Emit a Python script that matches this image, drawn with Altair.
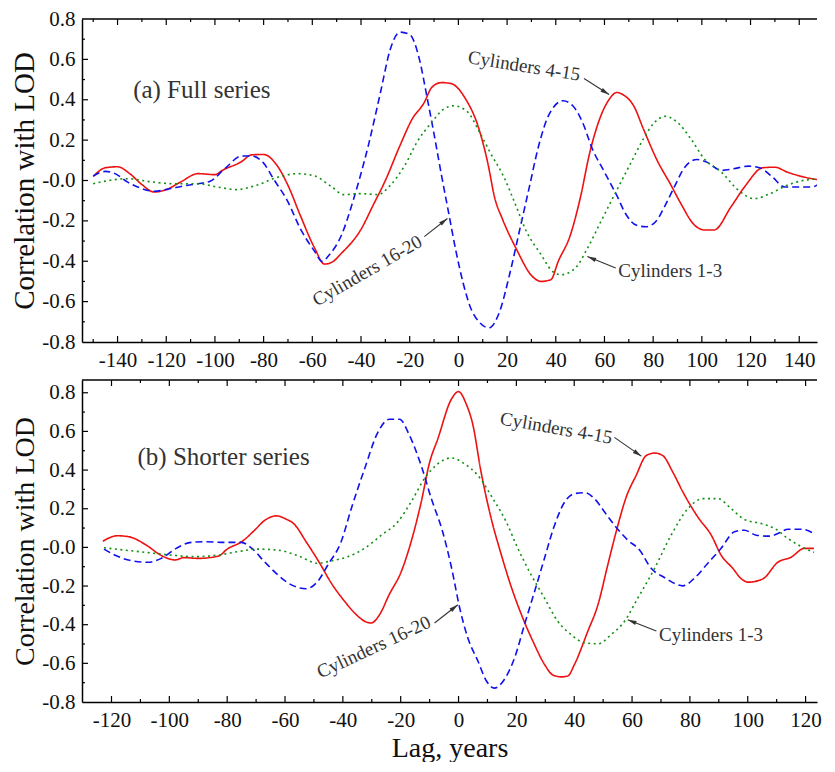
import math
import altair as alt
import pandas as pd

# ---------------- data ----------------
SERIES = ["Cylinders 4-15", "Cylinders 16-20", "Cylinders 1-3"]
COLORS = ["#ee1111", "#1111ee", "#119011"]
DASHES = [[1, 0], [7, 4], [2, 3.5]]

# (a) Full series
top_red_lag = [-150, -145, -140, -135, -130, -125, -120, -114, -107, -100, -97, -89, -85, -80, -75,
               -70, -65, -59, -55, -52, -48, -40, -35, -30, -24, -19, -14, -11, -7, -3,
               3, 8, 12, 15, 18, 24, 30, 34, 38, 41, 46, 50, 54, 58, 62,
               65, 68, 72, 76, 82, 87, 91, 97, 101, 105, 112, 118, 125, 130, 135, 142, 150]
top_red_val = [0.02, 0.063, 0.068, 0.034, -0.02, -0.057, -0.045, -0.007, 0.034, 0.029, 0.05, 0.094, 0.127, 0.129, 0.083,
               -0.024, -0.171, -0.336, -0.414, -0.405, -0.36, -0.242, -0.122, 0.0, 0.173, 0.304, 0.387, 0.46, 0.485, 0.48,
               0.403, 0.272, 0.091, -0.09, -0.188, -0.344, -0.47, -0.5, -0.491, -0.401, -0.27, -0.09, 0.14, 0.304, 0.403,
               0.436, 0.422, 0.37, 0.255, 0.091, -0.016, -0.106, -0.221, -0.245, -0.245, -0.13, -0.024, 0.063, 0.066, 0.042, 0.017, 0.0]

top_blue_lag = [-150, -145, -141, -136, -130, -125, -118, -113, -107, -102, -96, -89, -85, -80, -76,
                -70, -65, -59, -56, -53, -48, -43, -37, -32, -28, -24, -20, -16, -13, -10,
                -7, -4, -1, 2, 5, 8.5, 12.5, 17, 21, 25, 29, 33, 37, 43, 47,
                51, 55, 60, 65, 69, 73, 77, 81, 85, 89, 93, 98, 102, 108, 113,
                119, 124, 129, 134, 139, 145, 150]
top_blue_val = [0.022, 0.045, 0.034, -0.007, -0.04, -0.053, -0.04, -0.027, -0.016, -0.004, 0.058, 0.121, 0.121, 0.086, 0.009,
                -0.106, -0.237, -0.352, -0.401, -0.368, -0.27, -0.09, 0.173, 0.436, 0.649, 0.735, 0.723, 0.6, 0.42, 0.23,
                0.03, -0.16, -0.35, -0.51, -0.63, -0.70, -0.73, -0.647, -0.467, -0.254, -0.04, 0.173, 0.321, 0.395, 0.37,
                0.288, 0.157, 0.042, -0.073, -0.171, -0.221, -0.229, -0.204, -0.122, -0.024, 0.066, 0.104, 0.091, 0.05, 0.058,
                0.071, 0.062, 0.017, -0.032, -0.032, -0.032, 0.001]

top_green_lag = [-150, -143, -136, -126, -117, -107, -99, -91, -83, -74, -66, -59, -52, -47, -40,
                 -33, -28, -22, -17, -11, -6, -2, 4, 8, 13, 19, 23, 28, 34, 38,
                 42, 48, 53, 58.5, 64, 71, 76, 80, 85, 90, 95.5, 101, 108, 115, 121.5,
                 128, 135, 142, 150]
top_green_val = [-0.016, 0.001, 0.009, -0.007, -0.016, -0.016, -0.032, -0.045, -0.024, 0.017, 0.034, 0.022, -0.032, -0.07, -0.065,
                 -0.07, -0.024, 0.075, 0.19, 0.288, 0.354, 0.37, 0.337, 0.255, 0.14, 0.009, -0.106, -0.254, -0.368, -0.442,
                 -0.467, -0.434, -0.336, -0.204, -0.073, 0.091, 0.206, 0.28, 0.318, 0.288, 0.206, 0.107, 0.042, -0.048, -0.09,
                 -0.065, -0.024, 0.001, 0.009]

# (b) Shorter series
bot_red_lag = [-123, -118, -114, -108, -103, -98, -95, -90, -83, -80, -75, -70.5, -67, -63, -59.6,
               -57, -52.7, -48, -44, -39.4, -34.8, -32.5, -30.2, -27.3, -24, -19.8, -16.4, -12.9, -10, -7.2,
               -2.5, 0, 2.7, 4.9, 7.8, 11.3, 14.8, 17.6, 22.2, 25.7, 29.7, 32.6, 35.5, 37.8, 40.1,
               44.7, 48.2, 51.6, 54.5, 58, 61.4, 64.9, 67.8, 70.6, 74.1, 77.6, 82.7, 87.4, 90.8, 94.8,
               97.8, 100.3, 105.2, 110.4, 115, 119.6, 122.9]
bot_red_val = [0.032, 0.06, 0.055, 0.012, -0.04, -0.065, -0.053, -0.057, -0.045, -0.009, 0.029, 0.089, 0.14, 0.163, 0.146,
               0.123, 0.029, -0.082, -0.185, -0.279, -0.356, -0.382, -0.391, -0.348, -0.245, -0.125, 0.029, 0.235, 0.44, 0.56,
               0.766, 0.806, 0.74, 0.638, 0.389, 0.149, -0.039, -0.176, -0.365, -0.485, -0.605, -0.66, -0.67, -0.665, -0.605,
               -0.434, -0.297, -0.091, 0.081, 0.261, 0.372, 0.475, 0.488, 0.475, 0.389, 0.286, 0.158, 0.063, -0.04, -0.108,
               -0.163, -0.18, -0.163, -0.077, -0.051, -0.005, -0.005]

bot_blue_lag = [-122.6, -118.9, -113.2, -107.4, -102.8, -97.6, -92.4, -87.8, -80.9, -75.1, -71.7, -67.1, -62.5, -57.8, -52.7,
                -48.7, -45.2, -40.6, -37.1, -32.5, -27.9, -23.9, -20.4, -16.9, -12.9, -9.4, -5.5, -2.5, 0.5, 3.2,
                6.7, 9.6, 12.4, 15.9, 19.4, 22.8, 26.3, 29.7, 33.2, 36.7, 40.1, 43.6, 47, 50.5, 53.9,
                58.5, 62.6, 66.6, 71.2, 77.6, 81.6, 86.2, 90.8, 95.4, 98.9, 102.9, 107.5, 110.4, 113.9, 118.5,
                122.9]
bot_blue_val = [-0.009, -0.039, -0.069, -0.077, -0.057, -0.005, 0.026, 0.029, 0.026, 0.026, -0.002, -0.074, -0.142, -0.194, -0.214,
                -0.176, -0.091, 0.029, 0.2, 0.406, 0.595, 0.663, 0.663, 0.577, 0.423, 0.252, 0.081, -0.1, -0.32, -0.468,
                -0.588, -0.69, -0.728, -0.682, -0.571, -0.4, -0.228, -0.057, 0.115, 0.235, 0.278, 0.283, 0.252, 0.183, 0.115,
                0.038, -0.014, -0.108, -0.156, -0.199, -0.159, -0.082, -0.005, 0.081, 0.089, 0.063, 0.058, 0.072, 0.094, 0.094,
                0.072]

bot_green_lag = [-122.6, -115.5, -107.4, -99.3, -91.3, -83.2, -76.3, -69.4, -62.5, -55.6, -48.7, -44, -38.3, -32.5, -26.7,
                 -21, -16.4, -11.8, -7.2, -2.5, 2.1, 6.7, 11.9, 16.5, 20.5, 25.1, 29.7, 34.3, 38.9, 43.6,
                 48.2, 52.8, 57.4, 62, 67.8, 73.5, 79.3, 84.5, 89.7, 94.3, 98.9, 104.7, 109.3, 113.9, 118.5,
                 122.9]
bot_green_val = [-0.002, -0.014, -0.027, -0.04, -0.048, -0.04, -0.022, -0.009, -0.014, -0.043, -0.082, -0.07, -0.048, -0.005, 0.063,
                 0.132, 0.235, 0.355, 0.432, 0.463, 0.432, 0.372, 0.252, 0.132, -0.005, -0.142, -0.262, -0.382, -0.451, -0.494,
                 -0.499, -0.451, -0.382, -0.262, -0.108, 0.063, 0.2, 0.252, 0.252, 0.2, 0.144, 0.123, 0.098, 0.046, 0.004,
                 -0.026]

# tick values
top_x_major = list(range(-140, 141, 20))
top_x_minor = list(range(-150, 151, 20))
bot_x_major = list(range(-120, 121, 20))
bot_x_minor = list(range(-110, 111, 20))
y_major = [-0.8, -0.6, -0.4, -0.2, 0.0, 0.2, 0.4, 0.6, 0.8]
y_minor = [-0.7, -0.5, -0.3, -0.1, 0.1, 0.3, 0.5, 0.7]

# annotations: (text, lag, value, angle, fontsize, align)
top_notes = [("(a) Full series", -133.6, 0.446, 0, 25, "left"),
             ("Cylinders 4-15", 27, 0.567, 9, 19, "center"),
             ("Cylinders 16-20", -37.4, -0.447, 330, 19, "center"),
             ("Cylinders 1-3", 87, -0.45, 0, 19, "center")]
bot_notes = [("(b) Shorter series", -111, 0.47, 0, 25, "left"),
             ("Cylinders 4-15", 33.8, 0.617, 10, 19, "center"),
             ("Cylinders 16-20", -29.3, -0.516, 335, 19, "center"),
             ("Cylinders 1-3", 87.3, -0.451, 0, 19, "center")]
# arrows: (lag start, value start, lag tip, value tip)
top_arrows = [(51.6, 0.505, 61.9, 0.426), (-14.0, -0.278, -4.5, -0.188), (64.6, -0.434, 53.0, -0.377)]
bot_arrows = [(53.9, 0.569, 63.2, 0.472), (-8.3, -0.391, -0.24, -0.297), (68.4, -0.433, 58.5, -0.374)]

FONT = "Liberation Serif"
INK = "#111111"
NOTE = "#333333"
XFMT = "(datum.value < 0 ? '-' : '') + format(abs(datum.value), 'd')"
YFMT = "abs(datum.value) < 0.0001 ? '-0.0' : (datum.value < 0 ? '-' : '') + format(abs(datum.value), '.1f')"
YTITLE = "Correlation with LOD"


def panel(series, notes, arrows, xdom, ydom, W, H, xmaj, xmin, ytitle_size, xtitle):
    xs = alt.Scale(domain=xdom, nice=False, zero=False)
    ys = alt.Scale(domain=ydom, nice=False, zero=False)
    kx = W / (xdom[1] - xdom[0])
    ky = H / (ydom[1] - ydom[0])

    xaxis_kw = dict(values=xmaj, labelExpr=XFMT, ticks=False, grid=False, domain=True,
                    domainColor="black", domainWidth=1.5, labelFont=FONT, labelFontSize=21,
                    labelColor=INK, labelPadding=7, labelFlush=False, labelOverlap=False)
    if xtitle:
        xaxis_kw.update(titleFont=FONT, titleFontSize=28, titleFontWeight="normal",
                        titleColor=INK, titlePadding=4)
    xaxis = alt.Axis(**xaxis_kw)
    yaxis = alt.Axis(values=y_major, labelExpr=YFMT, ticks=False, grid=False, domain=True,
                     domainColor="black", domainWidth=1.5, labelFont=FONT, labelFontSize=21,
                     labelColor=INK, labelPadding=7, labelFlush=False, labelOverlap=False,
                     titleFont=FONT, titleFontSize=ytitle_size, titleFontWeight="normal",
                     titleColor=INK, titlePadding=2)

    def X(field):
        if xtitle:
            return alt.X(field, scale=xs, axis=xaxis, title=xtitle)
        return alt.X(field, scale=xs, axis=xaxis, title=None)

    def Y(field):
        return alt.Y(field, scale=ys, axis=yaxis, title=YTITLE)

    layers = []
    for (lag, val), color, dash in zip(series, COLORS, DASHES):
        df = pd.DataFrame({"lag": lag, "val": val})
        layers.append(alt.Chart(df).mark_line(color=color, strokeDash=dash, strokeWidth=1.6,
                                              interpolate="monotone", clip=True)
                      .encode(x=X("lag:Q"), y=Y("val:Q")))

    # inward ticks (major/minor) on bottom + top, and on the left
    def xt(vals, y0, y1):
        vals = [v for v in vals if (v - xdom[0]) * kx > 3 and (xdom[1] - v) * kx > 3]
        return alt.Chart(pd.DataFrame({"lag": vals})).mark_rule(color="black", strokeWidth=1.2).encode(
            x=X("lag:Q"), y=alt.value(y0), y2=alt.value(y1))

    def yt(vals, length):
        vals = [v for v in vals if (v - ydom[0]) * ky > 3 and (ydom[1] - v) * ky > 3]
        return alt.Chart(pd.DataFrame({"val": vals})).mark_rule(color="black", strokeWidth=1.2).encode(
            y=Y("val:Q"), x=alt.value(0), x2=alt.value(length))

    layers += [xt(xmaj, H, H - 6), xt(xmaj, 0, 6), xt(xmin, H, H - 3), xt(xmin, 0, 3),
               yt(y_major, 6), yt(y_minor, 3)]
    # top frame line
    layers.append(alt.Chart(pd.DataFrame({"a": [0]})).mark_rule(color="black", strokeWidth=1.5)
                  .encode(x=alt.value(0), x2=alt.value(W), y=alt.value(0)))

    # annotations
    for text, lag, val, ang, size, align in notes:
        layers.append(alt.Chart(pd.DataFrame({"lag": [lag], "val": [val], "txt": [text]}))
                      .mark_text(font=FONT, fontSize=size, angle=ang, align=align, baseline="middle",
                                 color=NOTE)
                      .encode(x=X("lag:Q"), y=Y("val:Q"), text="txt:N"))
    rows = []
    for l1, v1, l2, v2 in arrows:
        dx = (l2 - l1) * kx
        dy = -(v2 - v1) * ky
        rows.append({"lag": l1, "val": v1, "lag2": l2, "val2": v2,
                     "ang": math.degrees(math.atan2(dx, -dy)) % 360})
    adf = pd.DataFrame(rows)
    layers.append(alt.Chart(adf).mark_rule(color=NOTE, strokeWidth=1.1).encode(
        x=X("lag:Q"), y=Y("val:Q"), x2="lag2:Q", y2="val2:Q"))
    hdf = adf[["lag2", "val2", "ang"]].rename(columns={"lag2": "lag", "val2": "val"})
    layers.append(alt.Chart(hdf).mark_point(shape="M0,0 L0.55,2.2 L-0.55,2.2 Z", filled=True, size=64,
                                            color=NOTE, opacity=1).encode(
        x=X("lag:Q"), y=Y("val:Q"), angle=alt.Angle("ang:Q", scale=None)))

    return alt.layer(*layers).properties(width=W, height=H)


W = 735
TOP_H, BOT_H = 323, 322
KX_TOP, KX_BOT = 2.4346, 2.892          # pixels per year in the reference panels
top_xdom = [-154.6, -154.6 + W / KX_TOP]
bot_xdom = [-130.2, -130.2 + W / KX_BOT]
top_ydom = [-0.8, 0.8]
bot_ydom = [-0.8, 0.866]

top = panel([(top_red_lag, top_red_val), (top_blue_lag, top_blue_val), (top_green_lag, top_green_val)],
            top_notes, top_arrows, top_xdom, top_ydom, W, TOP_H, top_x_major, top_x_minor, 29, None)
bottom = panel([(bot_red_lag, bot_red_val), (bot_blue_lag, bot_blue_val), (bot_green_lag, bot_green_val)],
               bot_notes, bot_arrows, bot_xdom, bot_ydom, W, BOT_H, bot_x_major, bot_x_minor, 28, "Lag, years")

chart = alt.vconcat(top, bottom, spacing=38, bounds="flush").properties(
    padding={"left": 2, "top": 0, "right": 0, "bottom": 0}
).configure(font=FONT, background="white").configure_view(stroke=None)

chart.save("out.html", embed_options={"renderer": "svg", "actions": False})
